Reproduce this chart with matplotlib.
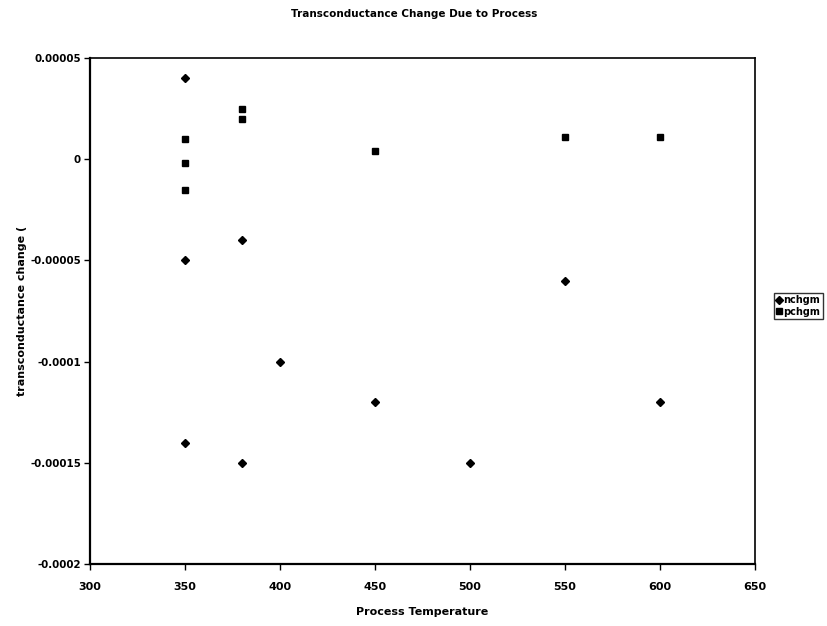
import matplotlib
matplotlib.use("Agg")
import matplotlib.pyplot as plt
from matplotlib.ticker import FixedLocator

# Transconductance change per device vs. process temperature
n_temp = [350, 350, 350, 380, 380, 400, 450, 500, 550, 600]
n_change = [4e-5, -5e-5, -1.4e-4, -4e-5, -1.5e-4, -1e-4, -1.2e-4, -1.5e-4, -6e-5, -1.2e-4]

p_temp = [350, 350, 350, 380, 380, 450, 550, 600]
p_change = [1e-5, -2e-6, -1.5e-5, 2.5e-5, 2e-5, 4e-6, 1.1e-5, 1.1e-5]

x_ticks = [300, 350, 400, 450, 500, 550, 600, 650]
y_ticks = [0.00005, 0, -0.00005, -0.0001, -0.00015, -0.0002]
y_tick_labels = ["0.00005", "0", "-0.00005", "-0.0001", "-0.00015", "-0.0002"]

plt.rcParams["font.family"] = ["DejaVu Sans"]
plt.rcParams["font.weight"] = "bold"

fig = plt.figure(figsize=(8.28, 6.26), dpi=100)
W, H = 828, 626
ax = fig.add_axes([90 / W, 1 - 564 / H, (755 - 90) / W, (564 - 58) / H])

ax.plot(n_temp, n_change, linestyle="none", marker="D", markersize=4.2,
        color="black", label="nchgm")
ax.plot(p_temp, p_change, linestyle="none", marker="s", markersize=4.8,
        color="black", label="pchgm")

ax.set_xlim(300, 650)
ax.set_ylim(-0.0002, 0.00005)
ax.xaxis.set_major_locator(FixedLocator(x_ticks))
ax.yaxis.set_major_locator(FixedLocator(y_ticks))
ax.set_xticklabels([str(v) for v in x_ticks])
ax.set_yticklabels(y_tick_labels)

ax.tick_params(axis="both", direction="out", length=4, width=1, colors="black")
ax.tick_params(axis="x", pad=9, labelsize=8)
ax.tick_params(axis="y", pad=2.5, labelsize=7.4)
for lbl in ax.get_xticklabels() + ax.get_yticklabels():
    lbl.set_fontweight("bold")

for side in ["left", "bottom"]:
    ax.spines[side].set_linewidth(1.6)
for side in ["top", "right"]:
    ax.spines[side].set_linewidth(1.2)
for sp in ax.spines.values():
    sp.set_color("black")

ax.set_xlabel("Process Temperature", fontsize=8, fontweight="bold", labelpad=10.5)
ax.set_ylabel("transconductance change (", fontsize=8, fontweight="bold", labelpad=2)
fig.text(0.5, 1 - 14 / H, "Transconductance Change Due to Process",
         fontsize=7.5, fontweight="bold", ha="center", va="center")

leg = fig.legend(loc="center left", bbox_to_anchor=(774 / W, 1 - 306 / H),
                 frameon=True, fancybox=False, fontsize=7,
                 handlelength=0.5, handletextpad=0.2, borderpad=0.25,
                 labelspacing=0.15, borderaxespad=0)
leg.get_frame().set_edgecolor("black")
leg.get_frame().set_linewidth(1.0)

fig.savefig("out.png", dpi=100, facecolor="white")
